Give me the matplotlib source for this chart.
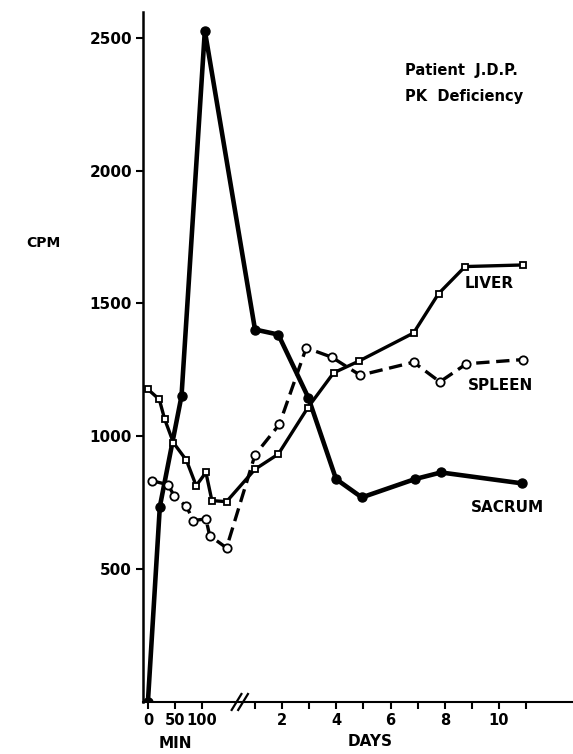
import matplotlib
matplotlib.use('Agg')
import matplotlib.pyplot as plt
import numpy as np

# escala do eixo x: minutos na parte esquerda, dias depois da quebra
MIN_SCALE = 0.02      # 100 min -> 2 unidades
DAY_OFFSET = 2.95     # dia d -> d + DAY_OFFSET
BREAK = 3.39

# SACRUM
sacrum_min = [0, 22, 62, 105]
sacrum_min_cpm = [0, 735, 1152, 2527]
sacrum_days = [1.0, 1.86, 2.97, 3.99, 4.94, 6.9, 7.86, 10.84]
sacrum_days_cpm = [1402, 1383, 1145, 839, 770, 839, 864, 823]

# LIVER
liver_min = [0, 21, 31, 47, 71, 89, 107, 118, 145]
liver_min_cpm = [1177, 1139, 1064, 976, 910, 814, 864, 758, 754]
liver_days = [1.0, 1.86, 2.95, 3.9, 4.83, 6.85, 7.77, 8.75, 10.87]
liver_days_cpm = [876, 933, 1108, 1239, 1283, 1389, 1537, 1639, 1645]

# SPLEEN
spleen_min = [7, 37, 49, 71, 84, 107, 114, 145]
spleen_min_cpm = [833, 818, 774, 736, 683, 689, 626, 580]
spleen_days = [1.0, 1.9, 2.89, 3.83, 4.88, 6.85, 7.82, 8.8, 10.9]
spleen_days_cpm = [930, 1045, 1333, 1298, 1230, 1279, 1205, 1273, 1289]

min_ticks = [0, 50, 100]
day_ticks = [1, 2, 3, 4, 5, 6, 7, 8, 9, 10, 11]
day_labels = ['', '2', '', '4', '', '6', '', '8', '', '10', '']
y_ticks = [500, 1000, 1500, 2000, 2500]


def junta(minutos, dias):
    return np.concatenate((np.array(minutos) * MIN_SCALE, np.array(dias) + DAY_OFFSET))


fig = plt.figure(figsize=(5.73, 7.54), dpi=100)
ax = fig.add_axes([0.2496, 0.069, 0.7504, 0.915])

ax.plot(junta(sacrum_min, sacrum_days), np.concatenate((sacrum_min_cpm, sacrum_days_cpm)),
        color='black', lw=3.3, marker='o', ms=6.5, mfc='black', mec='black', zorder=3)
ax.plot(junta(liver_min, liver_days), np.concatenate((liver_min_cpm, liver_days_cpm)),
        color='black', lw=2.4, marker='s', ms=5, mfc='white', mec='black', mew=1.3, zorder=4)
ax.plot(junta(spleen_min, spleen_days), np.concatenate((spleen_min_cpm, spleen_days_cpm)),
        color='black', lw=2.4, ls=(0, (4, 2)), marker='o', ms=6, mfc='white', mec='black',
        mew=1.3, zorder=4)

ax.set_xlim(-0.18, 15.68)
ax.set_ylim(0, 2597)

ax.spines['top'].set_visible(False)
ax.spines['right'].set_visible(False)
ax.spines['left'].set_linewidth(1.8)
ax.spines['bottom'].set_linewidth(1.5)

xt = list(np.array(min_ticks) * MIN_SCALE) + list(np.array(day_ticks) + DAY_OFFSET)
xl = [str(m) for m in min_ticks] + day_labels
ax.set_xticks(xt)
ax.set_xticklabels(xl, fontsize=10.5, fontweight='bold')
ax.set_yticks(y_ticks)
ax.set_yticklabels([str(v) for v in y_ticks], fontsize=11, fontweight='bold')
ax.tick_params(axis='both', direction='out', length=5, width=1.5, pad=3)

# marca de quebra //
for dx in (-0.12, 0.12):
    ax.plot([BREAK + dx - 0.18, BREAK + dx + 0.18], [-30, 30], color='black', lw=1.6,
            clip_on=False, zorder=5)

fig.text(175 / 573, 1 - 744 / 754, 'MIN', fontsize=11, fontweight='bold', ha='center', va='center')
fig.text(370 / 573, 1 - 742 / 754, 'DAYS', fontsize=11, fontweight='bold', ha='center', va='center')
fig.text(43 / 573, 1 - 243 / 754, 'CPM', fontsize=10, fontweight='bold', ha='center', va='center')

fig.text(405 / 573, 1 - 70 / 754, 'Patient  J.D.P.', fontsize=10.5, fontweight='bold', va='center')
fig.text(405 / 573, 1 - 97 / 754, 'PK  Deficiency', fontsize=10.5, fontweight='bold', va='center')

fig.text(465 / 573, 1 - 284 / 754, 'LIVER', fontsize=11, fontweight='bold', va='center')
fig.text(468 / 573, 1 - 385 / 754, 'SPLEEN', fontsize=11, fontweight='bold', va='center')
fig.text(471 / 573, 1 - 507 / 754, 'SACRUM', fontsize=11, fontweight='bold', va='center')

plt.savefig('out.png', dpi=100)
